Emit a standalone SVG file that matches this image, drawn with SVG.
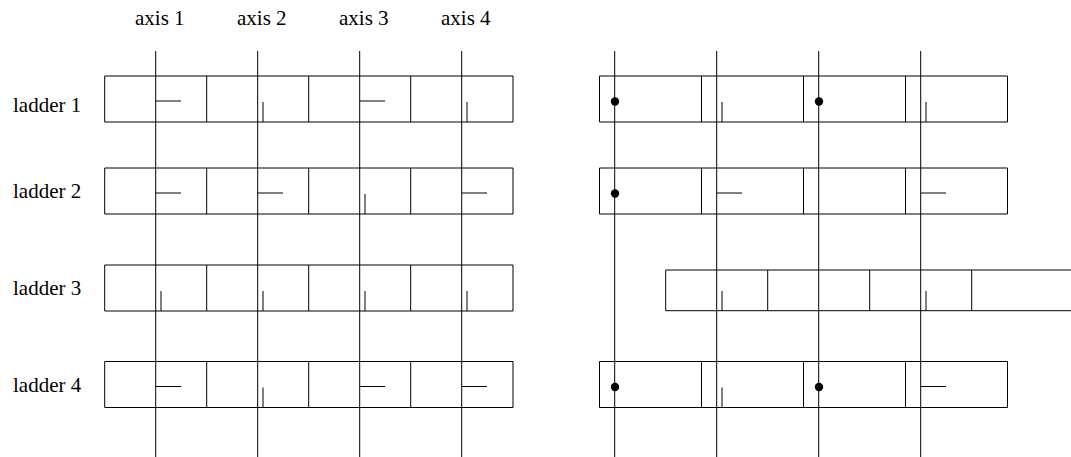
<svg xmlns="http://www.w3.org/2000/svg" width="1071" height="457" viewBox="0 0 1071 457">
<defs>
<style>
.l{fill:none;stroke:#000;stroke-width:1;shape-rendering:auto}
text{font-family:"Liberation Serif","Times New Roman",serif;font-size:21px;fill:#000}
</style>
<path id="h" class="l" d="M0 0h25"/>
<path id="v" class="l" d="M0 0v20"/>
<circle id="d" r="4.2" fill="#000"/>
</defs>
<rect width="1071" height="457" fill="#fff"/>
<g id="labels">
<text x="135" y="25">axis 1</text><text x="237" y="25">axis 2</text><text x="339" y="25">axis 3</text><text x="441" y="25">axis 4</text>
<text x="13" y="111.500">ladder 1</text><text x="13" y="198">ladder 2</text><text x="13" y="295">ladder 3</text><text x="13" y="392">ladder 4</text>
</g>
<g id="left-ladders">
<g id="l1"><path class="l" d="M104.7 76H513V122H104.7ZM206.7 76V122M308.7 76V122M410.7 76V122"/><use href="#h" x="156" y="101"/><use href="#v" x="263" y="102"/><use href="#h" x="360" y="101"/><use href="#v" x="467" y="102"/></g>
<g id="l2"><path class="l" d="M104.7 168H513V214H104.7ZM206.7 168V214M308.7 168V214M410.7 168V214"/><use href="#h" x="156" y="193"/><use href="#h" x="258" y="193"/><use href="#v" x="365" y="194"/><use href="#h" x="462" y="193"/></g>
<g id="l3"><path class="l" d="M104.7 265H513V311H104.7ZM206.7 265V311M308.7 265V311M410.7 265V311"/><use href="#v" x="161" y="291"/><use href="#v" x="263" y="291"/><use href="#v" x="365" y="291"/><use href="#v" x="467" y="291"/></g>
<g id="l4"><path class="l" d="M104.7 361.500H513V407.500H104.700ZM206.7 361.500V407.500M308.7 361.500V407.500M410.7 361.500V407.500"/><use href="#h" x="156" y="386.500"/><use href="#v" x="263" y="387.500"/><use href="#h" x="360" y="386.500"/><use href="#h" x="462" y="386.500"/></g>
</g>
<g id="right-ladders">
<g id="r1"><path class="l" d="M599.500 76H1007.500V122H599.500ZM701.500 76V122M803.500 76V122M905.500 76V122"/><use href="#d" x="615" y="101.500"/><use href="#v" x="722" y="102"/><use href="#d" x="819" y="101.500"/><use href="#v" x="926" y="102"/></g>
<g id="r2"><path class="l" d="M599.500 168H1007.500V214H599.500ZM701.500 168V214M803.500 168V214M905.500 168V214"/><use href="#d" x="615" y="193.500"/><use href="#h" x="717" y="193"/><use href="#h" x="921" y="193"/></g>
<g id="r3"><path class="l" d="M1071 270H665.700V310.700H1071M767.700 270V310.700M869.700 270V310.700M971.700 270V310.700"/><use href="#v" x="722" y="291"/><use href="#v" x="926" y="291"/></g>
<g id="r4"><path class="l" d="M599.500 361.500H1007.500V407.500H599.500ZM701.500 361.500V407.500M803.500 361.500V407.500M905.500 361.500V407.500"/><use href="#d" x="615" y="387"/><use href="#v" x="722" y="387.500"/><use href="#d" x="819" y="387"/><use href="#h" x="921" y="386.500"/></g>
</g>
<g id="connectors">
<path class="l" d="M155.700 51V457M257.700 51V457M359.700 51V457M461.700 51V457M614.700 51V457M716.700 51V457M818.700 51V457M920.700 51V457"/>
</g>
</svg>
